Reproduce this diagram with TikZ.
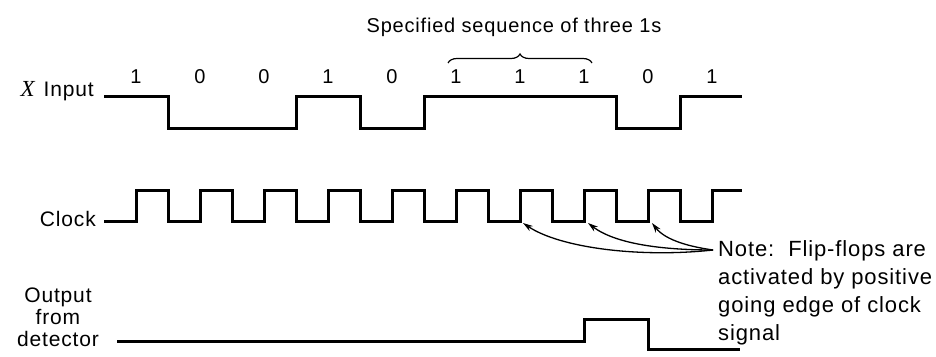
\documentclass[tikz,border=0pt]{standalone}
\usepackage{fontspec}
\setmainfont{Liberation Sans}[LetterSpace=4]
\newfontfamily\seriffont{Liberation Serif}
\usetikzlibrary{arrows.meta,decorations.pathreplacing}
\tikzset{
  wave/.style={line width=3pt, line join=miter, line cap=butt},
  lbl/.style={font=\fontsize{21}{22}\selectfont, inner sep=0pt},
  titlelbl/.style={font=\fontsize{20}{24}\selectfont, inner sep=0pt},
  notelbl/.style={font=\fontsize{22}{28}\selectfont, inner sep=0pt},
  bitlbl/.style={titlelbl, anchor=base},
  notearrow/.style={-{Stealth[length=10pt,width=6pt]}, line width=1.3pt},
  bracestyle/.style={decorate, decoration={brace, amplitude=9pt}, line width=1.2pt},
}
\begin{document}
\begin{tikzpicture}[x=1pt,y=-1pt]
\useasboundingbox (0,0) rectangle (936,356);

% title and brace
\node[titlelbl, anchor=base] (title) at (514,32) {Specified sequence of three 1s};
\coordinate (bl) at (448,63);
\coordinate (br) at (592,63);
\draw[bracestyle] (bl) -- (br);

% bit labels
\foreach \b [count=\i from 0] in {1,0,0,1,0,1,1,1,0,1}
  \node[bitlbl] (bit\i) at ({136+64*\i},83) {\b};

% X input
\node[lbl, anchor=base east] (xlbl) at (94,96) {{\seriffont\itshape\fontsize{23}{23}\selectfont X}\hspace{9pt}Input};
\coordinate (xs) at (104,96);
\draw[wave] (xs) -- (168,96) -- (168,128) -- (296,128) -- (296,96) -- (360,96)
  -- (360,128) -- (424,128) -- (424,96) -- (616,96) -- (616,128) -- (680,128)
  -- (680,96) -- (742,96);

% clock
\node[lbl, anchor=base east] (clbl) at (96,226) {Clock};
\coordinate (cs) at (104,221);
\draw[wave] (cs) foreach \k in {0,...,8} {
    -- ({136+64*\k},221) -- ({136+64*\k},190) -- ({168+64*\k},190) -- ({168+64*\k},221) }
  -- (712,221) -- (712,190) -- (742,190);

% output (base anchor of a multi-line node is its last line)
\node[lbl, align=center, anchor=base] (olbl) at (58,346) {Output\\from\\detector};
\coordinate (os) at (117,341);
\draw[wave] (os) -- (584,341) -- (584,319) -- (648,319) -- (648,349) -- (740,349);

% note
\node[notelbl, align=left, anchor=base west] (note) at (718,340)
  {Note:\ \ Flip-flops are\\activated by positive\\going edge of clock\\signal};
\coordinate (np) at (713,250);
\coordinate (e1) at (523,223);
\coordinate (e2) at (588,223);
\coordinate (e3) at (652,223);
\draw[notearrow] (np) .. controls (640,258) and (560,248) .. (e1);
\draw[notearrow] (np) .. controls (672,250) and (618,246) .. (e2);
\draw[notearrow] (np) .. controls (692,247) and (666,241) .. (e3);
\end{tikzpicture}
\end{document}
